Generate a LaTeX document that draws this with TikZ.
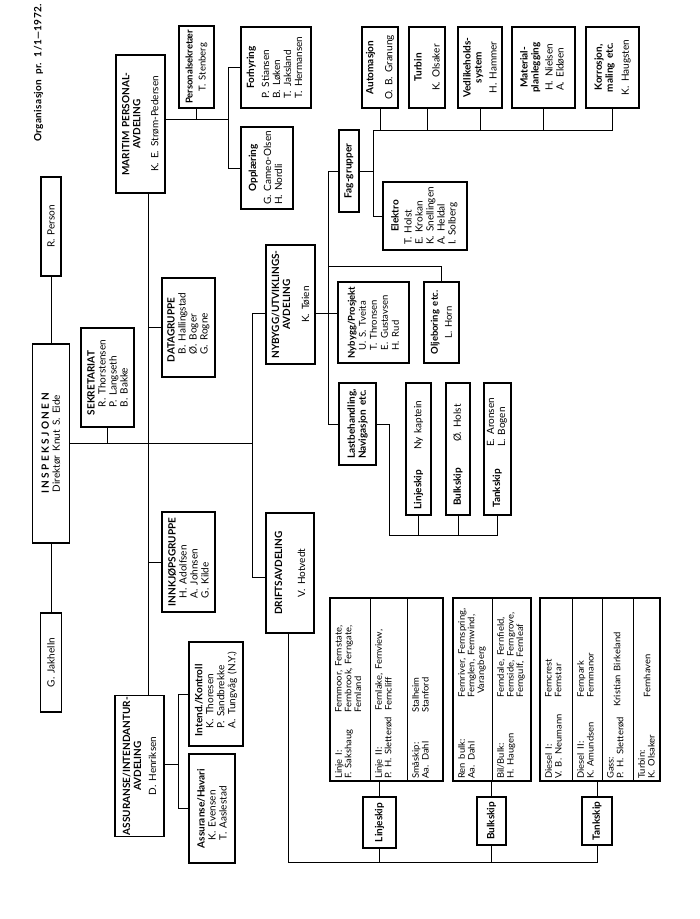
\documentclass[tikz,border=0pt]{standalone}
\usepackage{fontspec}
\setmainfont{Lato}[WordSpace=1.6]
\newcommand{\nmi}{\hspace*{8pt}}
\tikzset{
  ln/.style={line width=1pt},
  box/.style={draw, line width=1.2pt, rotate=90, inner sep=1.5pt, align=center,
    font=\fontsize{10}{11}\selectfont},
  lbox/.style={box, align=left},
  bx/.style 2 args={minimum width=#2pt, minimum height=#1pt},
  cel/.style={rotate=90, anchor=north west, align=left, inner sep=0pt,
    font=\fontsize{9}{9.7}\selectfont\addfontfeatures{FakeStretch=1.05}},
  tbl/.style={draw, line width=1.2pt, minimum height=183pt}
}
\begin{document}
\begin{tikzpicture}[x=1pt, y=-1pt]
	\useasboundingbox (0,0) rectangle (700,919);
	\node[rotate=90, font=\fontsize{10}{12}\selectfont\bfseries] (title) at (38.5,73) {\addfontfeatures{LetterSpace=4}Organisasjon pr. 1/1—1972.};
	\node[box, bx={20}{99}] (person) at (51,226.5) {R. Person};
	\node[box, bx={37}{199}] (insp) at (51,443.5) {{\bfseries\addfontfeatures{LetterSpace=24}INSPEKSJONEN}\\Direktør Knut S. Eide};
	\node[box, bx={21}{99}] (jak) at (51,662.5) {G. Jakhelln};
	\node[lbox, bx={53}{99}] (sekr) at (107.5,377.5) {\textbf{SEKRETARIAT}\\\nmi R. Thorstensen\\\nmi P. Langseth\\\nmi B. Bakke};
	\node[box, bx={49}{138}] (mpa) at (140.5,124) {\textbf{MARITIM PERSONAL-}\\\textbf{AVDELING}\\[7pt]K. E. Strøm-Pedersen};
	\node[box, bx={35}{82}, font=\fontsize{9.5}{11}\selectfont] (psek) at (196.5,67) {\textbf{Personalsekretær}\\[2pt]T. Stenberg};
	\node[box, bx={70}{81}] (forh) at (276,67.5) {\textbf{Forhyring}\\[4pt]\begin{tabular}[t]{@{}l@{}}P. Stiansen\\B. Løken\\T. Jaksland\\T. Hermansen\end{tabular}};
	\node[box, bx={52}{82}] (oppl) at (267,168) {\textbf{Opplæring}\\[4pt]\begin{tabular}[t]{@{}l@{}}G. Cameo-Olsen\\H. Nordli\end{tabular}};
	\node[lbox, bx={53}{99}] (data) at (188.5,327.5) {\textbf{DATAGRUPPE}\\\nmi B. Hallingstad\\\nmi Ø. Boger\\\nmi G. Rogne};
	\node[lbox, bx={53}{100}] (innk) at (188.5,562) {\textbf{INNKJØPSGRUPPE}\\\nmi H. Adolfsen\\\nmi A. Johnsen\\\nmi G. Kilde};
	\node[box, bx={49}{138}] (asa) at (139.5,766) {\textbf{ASSURANSE/INTENDANTUR-}\\\textbf{AVDELING}\\[4pt]D. Henriksen};
	\node[lbox, bx={54}{104}] (intk) at (216,694) {\textbf{Intend./Kontroll}\\\nmi K. Thoresen\\\nmi P. Sandbrekke\\\nmi A. Tungvåg (N.Y.)};
	\node[lbox, bx={46}{109}] (ahav) at (212,808.5) {\textbf{Assuranse/Havari}\\\nmi K. Evensen\\\nmi T. Aaslestad};
	\node[box, bx={49}{119}] (nyb) at (290.5,304.5) {\textbf{NYBYGG/UTVIKLINGS-}\\\textbf{AVDELING}\\[8pt]K. Tøien};
	\node[box, bx={48}{120}] (drift) at (290,573) {\textbf{DRIFTSAVDELING}\\[12pt]V. Hotvedt};
	\node[box, bx={20}{82}] (fag) at (349,171) {\textbf{Fag-grupper}};
	\node[lbox, bx={71}{81}, font=\fontsize{9.5}{11}\selectfont] (nprj) at (373.5,322.5) {\textbf{Nybygg/Prosjekt}\\\nmi U. S. Tveita\\\nmi T. Thronsen\\\nmi E. Gustavsen\\\nmi H. Rud};
	\node[box, bx={35}{81}, font=\fontsize{9.5}{11}\selectfont] (olje) at (441.5,322.5) {\textbf{Oljeboring etc.}\\[3pt]L. Horn};
	\node[lbox, bx={37}{82}] (last) at (357.5,424) {\textbf{Lastbehandling,}\\\textbf{Navigasjon etc.}};
	\node[box, bx={25}{132}] (lskp) at (418.5,449) {\textbf{Linjeskip}\hspace{20pt}Ny kaptein\hspace{12pt}};
	\node[box, bx={24}{132}] (bskp) at (458,449) {\textbf{Bulkskip}\hspace{26pt}Ø. Holst\hspace{12pt}};
	\node[box, bx={27}{132}] (tskp) at (497.5,449) {\textbf{Tankskip}\hspace{22pt}\begin{tabular}{@{}l@{}}E. Aronsen\\L. Bogen\end{tabular}\hspace{8pt}};
	\node[box, bx={84}{68}] (elek) at (425,216) {\textbf{Elektro}\\[2pt]\begin{tabular}[t]{@{}l@{}}T. Holst\\E. Krokan\\K. Snellingen\\A. Heldal\\I. Solberg\end{tabular}};
	\node[box, bx={36}{81}] (auto) at (380,67.5) {\textbf{Automasjon}\\[8pt]O. B. Granung};
	\node[box, bx={36}{81}] (turb) at (427,67.5) {\textbf{Turbin}\\[7pt]K. Olsaker};
	\node[box, bx={44}{81}] (vedl) at (480,67.5) {\textbf{Vedlikeholds-}\\\textbf{system}\\[4pt]H. Hammer};
	\node[box, bx={63}{81}] (mat) at (543.5,67.5) {\textbf{Material-}\\\textbf{planlegging}\\[3pt]\begin{tabular}[t]{@{}l@{}}H. Nielsen\\A. Eldøen\end{tabular}};
	\node[box, bx={53}{81}] (korr) at (612.5,67.5) {\textbf{Korrosjon,}\\\textbf{maling etc.}\\[5pt]K. Haugsten};
	\node[box, bx={33}{51}] (lsk2) at (379.5,822.5) {\textbf{Linjeskip}};
	\node[box, bx={29}{48}] (bsk2) at (491.5,821) {\textbf{Bulkskip}};
	\node[box, bx={30}{48}] (tsk2) at (597,821) {\textbf{Tankskip}};
	\node[tbl, minimum width=113pt] (ltab) at (386.5,689.5) {};
	\node[tbl, minimum width=78pt] (btab) at (492,689.5) {};
	\node[tbl, minimum width=120pt] (ttab) at (600,689.5) {};
	\foreach \x in {370,407,492,572,602,633} \draw[ln] (\x,598) -- (\x,781);
	\node[cel] (l1a) at (335,779) {Linje I:\\F. Sakshaug};
	\node[cel] (l1b) at (335,713) {Fernmoor, Fernstate,\\Fernbrook, Ferngate,\\Fernland};
	\node[cel] (l2a) at (375,779) {Linje II:\\P. H. Sletterød};
	\node[cel] (l2b) at (375,711) {Fernlake, Fernview,\\Ferncliff};
	\node[cel] (l3a) at (412,779) {Småskip:\\Aa. Dahl};
	\node[cel] (l3b) at (412,713) {Stalheim\\Stanford};
	\node[cel] (b1a) at (458,779) {Ren bulk:\\Aa. Dahl};
	\node[cel] (b1b) at (458,698) {Fernriver, Fernspring,\\Fernglen, Fernwind,\\\hspace*{4pt}Varangberg};
	\node[cel] (b2a) at (497,779) {Bil/Bulk:\\H. Haugen};
	\node[cel] (b2b) at (497,698) {Ferndale, Fernfield,\\Fernside, Ferngrove,\\Ferngulf, Fernleaf};
	\node[cel] (t1a) at (545,779) {Diesel I:\\V. B. Neumann};
	\node[cel] (t1b) at (545,698) {Ferncrest\\Fernstar};
	\node[cel] (t2a) at (577,779) {Diesel II:\\K. Amundsen};
	\node[cel] (t2b) at (577,698) {Fernpark\\Fernmanor};
	\node[cel] (t3a) at (607,779) {Gass:\\P. H. Sletterød};
	\node[cel, anchor=west] (t3b) at (617,707) {Kristian Birkeland};
	\node[cel] (t4a) at (638,779) {Turbin:\\K. Olsaker};
	\node[cel, anchor=west] (t4b) at (647,698) {Fernhaven};
	\coordinate (ja) at (148,443.5);
	\coordinate (jb) at (252,443.5);
	\draw[ln] (person.west) -- (insp.east);
	\draw[ln] (insp.west) -- (jak.east);
	\draw[ln] (insp.south) -- (jb);
	\draw[ln] (sekr.west) -- (sekr.west |- ja);
	\draw[ln] (mpa.west -| ja) -- (asa.east -| ja);
	\draw[ln] (data.north) -- (data.north -| ja);
	\draw[ln] (innk.north) -- (innk.north -| ja);
	\coordinate (aa) at (178,764);
	\draw[ln] (asa.south |- aa) -- (aa);
	\draw[ln] (intk.north -| aa) -- (ahav.north -| aa);
	\draw[ln] (intk.north) -- (intk.north -| aa);
	\draw[ln] (ahav.north) -- (ahav.north -| aa);
	\coordinate (ma) at (228,119);
	\draw[ln] (mpa.south |- ma) -- (ma);
	\draw[ln] (psek.west) -- (psek.west |- ma);
	\draw[ln] (forh.north -| ma) -- (oppl.north -| ma);
	\draw[ln] (forh.north) -- (forh.north -| ma);
	\draw[ln] (oppl.north) -- (oppl.north -| ma);
	\coordinate (na) at (252,313);
	\coordinate (da) at (252,577);
	\draw[ln] (na) -- (da);
	\draw[ln] (na) -- (na -| nyb.north);
	\draw[ln] (da) -- (da -| drift.north);
	\draw[ln] (na -| nyb.south) -- (na -| nprj.north);
	\coordinate (fa) at (328,266);
	\draw[ln] (fag.north) -- (fag.north -| fa) -- (last.north -| fa) -- (last.north);
	\draw[ln] (fa) -| (olje.east);
	\coordinate (ga) at (373,130);
	\draw[ln] (fag.south) -- (fag.south -| ga);
	\draw[ln] (ga) |- (elek.north);
	\draw[ln] (ga) -| (korr.west);
	\foreach \n in {auto,turb,vedl,mat} \draw[ln] (\n.west) -- (\n.west |- ga);
	\coordinate (la) at (389,535);
	\draw[ln] (last.south) -| (la);
	\draw[ln] (la) -| (tskp.west);
	\foreach \n in {lskp,bskp} \draw[ln] (\n.west) -- (\n.west |- la);
	\coordinate (dr) at (288,862);
	\draw[ln] (drift.west -| dr) -- (dr) -| (tsk2.west);
	\foreach \n in {lsk2,bsk2} \draw[ln] (\n.west) -- (\n.west |- dr);
	\draw[ln] (lsk2.east) -- (lsk2.east |- ltab.south);
	\draw[ln] (bsk2.east) -- (bsk2.east |- btab.south);
	\draw[ln] (tsk2.east) -- (tsk2.east |- ttab.south);
\end{tikzpicture}
\end{document}
